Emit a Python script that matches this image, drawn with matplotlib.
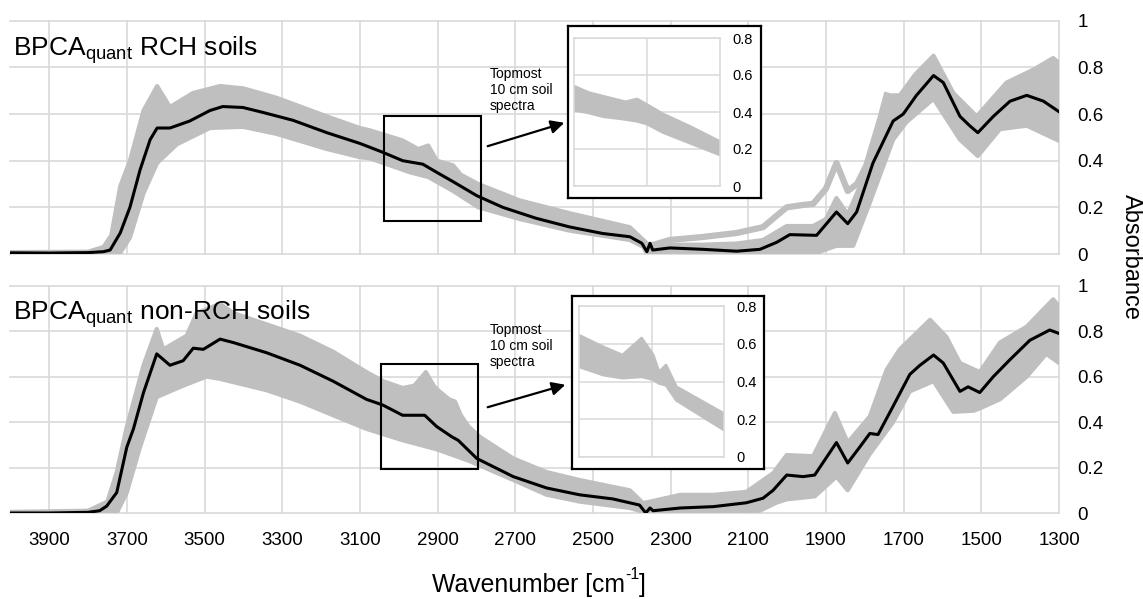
import matplotlib
matplotlib.use("Agg")
import matplotlib.pyplot as plt
from matplotlib.patches import Rectangle, FancyArrowPatch

plt.rcParams['font.family'] = ['Liberation Sans', 'DejaVu Sans']
plt.rcParams['mathtext.fontset'] = 'custom'
plt.rcParams['mathtext.rm'] = 'Liberation Sans'

# ---------------- data ----------------
x_ticks = [3900, 3700, 3500, 3300, 3100, 2900, 2700, 2500, 2300, 2100, 1900, 1700, 1500, 1300]
y_ticks = [0, 0.2, 0.4, 0.6, 0.8, 1]
inset_y_ticks = [0, 0.2, 0.4, 0.6, 0.8]

# --- RCH soils (top) ---
top_mean_wn = [4000, 3900, 3800, 3760, 3743, 3717, 3692, 3666, 3640, 3622, 3589, 3538, 3486, 3453,
               3401, 3350, 3272, 3185, 3100, 3041, 2990, 2938, 2902, 2860, 2799, 2732, 2646, 2560,
               2475, 2405, 2374, 2361, 2353, 2346, 2302, 2217, 2130, 2070, 2027, 1993, 1924, 1873,
               1844, 1821, 1779, 1727, 1701, 1667, 1623, 1598, 1555, 1530, 1509, 1469, 1426, 1383,
               1340, 1300]
top_mean_abs = [0.005, 0.004, 0.006, 0.01, 0.017, 0.09, 0.20, 0.36, 0.49, 0.54, 0.54, 0.57, 0.615, 0.632,
                0.628, 0.607, 0.573, 0.52, 0.474, 0.436, 0.40, 0.385, 0.35, 0.31, 0.25, 0.20, 0.153, 0.116,
                0.088, 0.074, 0.046, 0.01, 0.046, 0.017, 0.026, 0.02, 0.012, 0.02, 0.05, 0.083, 0.08, 0.18,
                0.13, 0.18, 0.39, 0.57, 0.60, 0.68, 0.765, 0.735, 0.59, 0.55, 0.52, 0.59, 0.655, 0.68,
                0.655, 0.61]

top_up_wn = [4000, 3800, 3760, 3740, 3717, 3692, 3657, 3622, 3600, 3589, 3530, 3460, 3400, 3315, 3185,
             3100, 3074, 2990, 2950, 2924, 2902, 2860, 2840, 2795, 2689, 2560, 2405, 2370, 2353, 2302,
             2217, 2130, 2062, 2001, 1933, 1900, 1873, 1844, 1810, 1780, 1744, 1710, 1670, 1623, 1572,
             1512, 1435, 1366, 1315, 1300]
top_up_abs = [0.008, 0.01, 0.03, 0.08, 0.29, 0.40, 0.615, 0.72, 0.66, 0.63, 0.69, 0.72, 0.71, 0.67, 0.59,
              0.54, 0.53, 0.487, 0.45, 0.465, 0.40, 0.38, 0.34, 0.30, 0.23, 0.175, 0.115, 0.06, 0.035, 0.04,
              0.04, 0.045, 0.06, 0.12, 0.12, 0.15, 0.24, 0.17, 0.30, 0.45, 0.68, 0.68, 0.77, 0.85, 0.69,
              0.59, 0.735, 0.79, 0.84, 0.82]

top_lo_wn = [4000, 3740, 3717, 3692, 3657, 3622, 3571, 3486, 3401, 3315, 3185, 3100, 3074, 2971, 2924,
             2860, 2795, 2689, 2560, 2405, 2370, 2361, 2302, 2130, 2001, 1933, 1873, 1830, 1787, 1727,
             1693, 1623, 1555, 1509, 1452, 1383, 1300]
top_lo_abs = [0.0, 0.0, 0.005, 0.07, 0.26, 0.39, 0.47, 0.54, 0.545, 0.515, 0.45, 0.415, 0.41, 0.35, 0.33,
              0.27, 0.20, 0.15, 0.10, 0.06, 0.03, 0.0, 0.01, 0.005, 0.005, 0.0, 0.035, 0.035, 0.22, 0.49,
              0.565, 0.665, 0.49, 0.42, 0.535, 0.55, 0.485]

top_out_wn = [2353, 2302, 2217, 2130, 2062, 2030, 2001, 1960, 1933, 1900, 1873, 1844, 1820, 1796, 1760, 1744]
top_out_abs = [0.035, 0.06, 0.073, 0.09, 0.115, 0.16, 0.20, 0.21, 0.215, 0.28, 0.39, 0.27, 0.30, 0.38, 0.58, 0.68]

# --- non-RCH soils (bottom) ---
bot_mean_wn = [4000, 3900, 3800, 3770, 3752, 3726, 3700, 3683, 3657, 3623, 3589, 3555, 3529, 3503, 3460,
               3426, 3340, 3254, 3169, 3083, 3041, 2990, 2933, 2902, 2863, 2847, 2799, 2705, 2619, 2534,
               2449, 2380, 2364, 2353, 2345, 2275, 2190, 2105, 2062, 2036, 2001, 1959, 1929, 1873, 1844,
               1813, 1787, 1766, 1727, 1684, 1658, 1623, 1598, 1555, 1534, 1504, 1469, 1426, 1375, 1324,
               1300]
bot_mean_abs = [0.0, 0.0, 0.003, 0.01, 0.03, 0.09, 0.29, 0.37, 0.53, 0.70, 0.65, 0.67, 0.725, 0.72, 0.765,
                0.75, 0.705, 0.65, 0.58, 0.50, 0.475, 0.43, 0.43, 0.38, 0.335, 0.32, 0.24, 0.16, 0.11, 0.08,
                0.062, 0.035, 0.0, 0.022, 0.01, 0.022, 0.028, 0.045, 0.065, 0.10, 0.167, 0.16, 0.167, 0.31,
                0.22, 0.29, 0.35, 0.345, 0.47, 0.61, 0.65, 0.695, 0.66, 0.535, 0.555, 0.53, 0.60, 0.675,
                0.76, 0.805, 0.79]

bot_up_wn = [4000, 3800, 3750, 3726, 3700, 3657, 3623, 3606, 3546, 3520, 3460, 3426, 3340, 3254, 3169,
             3083, 3040, 2990, 2960, 2930, 2910, 2895, 2870, 2855, 2840, 2820, 2791, 2705, 2619, 2534,
             2405, 2371, 2353, 2275, 2190, 2105, 2036, 2001, 1933, 1877, 1844, 1787, 1744, 1710, 1632,
             1590, 1555, 1504, 1452, 1383, 1315, 1300]
bot_up_abs = [0.005, 0.01, 0.05, 0.18, 0.38, 0.65, 0.81, 0.72, 0.78, 0.88, 0.92, 0.88, 0.83, 0.78, 0.71,
              0.62, 0.58, 0.55, 0.56, 0.62, 0.56, 0.535, 0.50, 0.49, 0.43, 0.38, 0.335, 0.24, 0.18, 0.145,
              0.10, 0.044, 0.05, 0.08, 0.08, 0.093, 0.175, 0.255, 0.25, 0.44, 0.31, 0.425, 0.63, 0.72, 0.85,
              0.775, 0.66, 0.62, 0.75, 0.82, 0.94, 0.91]

bot_lo_wn = [4000, 3726, 3700, 3666, 3623, 3555, 3495, 3460, 3340, 3254, 3169, 3083, 2990, 2902, 2820,
             2705, 2619, 2534, 2405, 2361, 2275, 2105, 2070, 2028, 2001, 1929, 1873, 1844, 1787, 1727,
             1684, 1623, 1572, 1520, 1504, 1452, 1383, 1333, 1300]
bot_lo_abs = [0.0, 0.0, 0.09, 0.29, 0.51, 0.56, 0.60, 0.59, 0.54, 0.49, 0.43, 0.37, 0.32, 0.28, 0.23,
              0.145, 0.08, 0.05, 0.022, 0.0, 0.0, 0.005, 0.01, 0.045, 0.06, 0.073, 0.16, 0.10, 0.26, 0.40,
              0.535, 0.58, 0.445, 0.45, 0.46, 0.50, 0.60, 0.70, 0.66]

# --- insets: topmost 10 cm soil spectra ---
ins_top_wn = [3040, 3015, 2990, 2952, 2932, 2915, 2888, 2840, 2790]
ins_top_up = [0.54, 0.505, 0.485, 0.455, 0.47, 0.44, 0.39, 0.32, 0.24]
ins_top_lo = [0.41, 0.395, 0.375, 0.36, 0.35, 0.335, 0.29, 0.23, 0.168]

ins_bot_wn = [3040, 2998, 2965, 2932, 2912, 2902, 2890, 2872, 2790]
ins_bot_up = [0.645, 0.583, 0.54, 0.63, 0.54, 0.45, 0.487, 0.372, 0.23]
ins_bot_lo = [0.478, 0.434, 0.418, 0.425, 0.41, 0.39, 0.38, 0.30, 0.143]

zoom_box_top = (3038, 2788, 0.141, 0.59)
zoom_box_bot = (3046, 2796, 0.194, 0.656)

# ---------------- styling ----------------
W, H = 1143, 599
GRAY = '#bfbfbf'
GRID = '#d9d9d9'
fig = plt.figure(figsize=(W / 100, H / 100), dpi=100)


def rect(px_l, px_t, px_r, px_b):
    return [px_l / W, 1 - px_b / H, (px_r - px_l) / W, (px_b - px_t) / H]


def band(ax, wn_up, up, wn_lo, lo, lw=3):
    xs = list(wn_up) + list(wn_lo)[::-1]
    ys = list(up) + list(lo)[::-1]
    ax.fill(xs, ys, color=GRAY, lw=0, zorder=2)
    ax.plot(wn_up, up, color=GRAY, lw=lw, zorder=2, solid_joinstyle='round', solid_capstyle='round')
    ax.plot(wn_lo, lo, color=GRAY, lw=lw, zorder=2, solid_joinstyle='round', solid_capstyle='round')


def style_main(ax, show_x):
    ax.set_xlim(4000, 1300)
    ax.set_ylim(0, 1)
    ax.set_xticks(x_ticks)
    ax.set_yticks(y_ticks)
    ax.set_yticklabels(['0', '0.2', '0.4', '0.6', '0.8', '1'])
    ax.yaxis.tick_right()
    ax.tick_params(axis='y', length=0, pad=13.5, labelsize=13.5)
    ax.tick_params(axis='x', length=0, pad=13.5, labelsize=13.5)
    if show_x:
        ax.set_xticklabels([str(t) for t in x_ticks])
    else:
        ax.set_xticklabels([])
    ax.grid(True, color=GRID, lw=1.2)
    for g in ax.get_xgridlines() + ax.get_ygridlines():
        g.set_clip_on(False)
    ax.set_axisbelow(True)
    for s in ax.spines.values():
        s.set_visible(False)


ax_top = fig.add_axes(rect(10.3, 20.7, 1059, 254))
ax_bot = fig.add_axes(rect(10.3, 285.7, 1059, 513))

for ax, up_wn, up, lo_wn, lo, m_wn, m, box, show_x in [
        (ax_top, top_up_wn, top_up_abs, top_lo_wn, top_lo_abs, top_mean_wn, top_mean_abs, zoom_box_top, False),
        (ax_bot, bot_up_wn, bot_up_abs, bot_lo_wn, bot_lo_abs, bot_mean_wn, bot_mean_abs, zoom_box_bot, True)]:
    style_main(ax, show_x)
    band(ax, up_wn, up, lo_wn, lo)
    ax.plot(m_wn, m, color='black', lw=2.2, zorder=4, solid_joinstyle='round')
    x0, x1, y0, y1 = box
    ax.add_patch(Rectangle((x0, y0), x1 - x0, y1 - y0, fill=False, ec='black', lw=1.5, zorder=5))

ax_top.plot(top_out_wn, top_out_abs, color=GRAY, lw=4.5, zorder=2, solid_joinstyle='round')

# titles
fig.text(13 / W, 1 - 55 / H, r'BPCA$_{\mathregular{quant}}$ RCH soils', fontsize=19, va='baseline', ha='left')
fig.text(13 / W, 1 - 320 / H, r'BPCA$_{\mathregular{quant}}$ non-RCH soils', fontsize=19, va='baseline', ha='left')

# axis labels (superscript built from plain text pieces)
t1 = fig.text(432 / W, 1 - 592 / H, 'Wavenumber [cm', fontsize=17.8, ha='left', va='baseline')
sup = ax_bot.annotate('-1', xy=(1.0, 0.62), xycoords=t1, fontsize=11.5, ha='left', va='bottom',
                      annotation_clip=False)
close = ax_bot.annotate(']', xy=(1.0, 0.0), xycoords=(sup, t1), fontsize=17.8, ha='left', va='bottom',
                        annotation_clip=False)
fig.text(1131 / W, 1 - 257 / H, 'Absorbance', fontsize=17, rotation=270, ha='center', va='center')


# insets
def inset(outer, inner, wn, up, lo):
    fr = fig.add_axes(rect(*outer))
    fr.set_xticks([])
    fr.set_yticks([])
    fr.set_facecolor('white')
    for s in fr.spines.values():
        s.set_color('black')
        s.set_linewidth(1.6)
    fr.set_zorder(10)
    ai = fig.add_axes(rect(*inner))
    ai.set_zorder(11)
    ai.set_facecolor('none')
    ai.set_xlim(3040, 2790)
    ai.set_ylim(0, 0.8)
    ai.set_xticks([2915])
    ai.set_xticklabels([])
    ai.set_yticks(inset_y_ticks)
    ai.set_yticklabels(['0', '0.2', '0.4', '0.6', '0.8'])
    ai.yaxis.tick_right()
    ai.tick_params(length=0, labelsize=10.5)
    ai.tick_params(axis='y', pad=9)
    ai.grid(True, color=GRID, lw=1.1)
    ai.set_axisbelow(True)
    for s in ai.spines.values():
        s.set_color(GRID)
        s.set_linewidth(1.1)
    band(ai, wn, up, wn, lo, lw=2)
    return fr, ai


inset((568, 26, 761, 198), (574, 38, 720, 186), ins_top_wn, ins_top_up, ins_top_lo)
inset((572, 296, 764, 469), (579, 306, 724, 457), ins_bot_wn, ins_bot_up, ins_bot_lo)

# arrows and annotation texts
for (xa, ya), (xb, yb), ty in [((485, 147), (567, 122), 67), ((485, 408), (568, 384), 323)]:
    fig.add_artist(FancyArrowPatch(
        (xa / W, 1 - ya / H), (xb / W, 1 - yb / H), transform=fig.transFigure,
        arrowstyle='-|>', mutation_scale=20, lw=1.6, color='black', zorder=12))
    fig.text(490 / W, 1 - ty / H, 'Topmost\n10 cm soil\nspectra', fontsize=10, va='top', ha='left',
             linespacing=1.2)

fig.savefig('out.png', dpi=100)
